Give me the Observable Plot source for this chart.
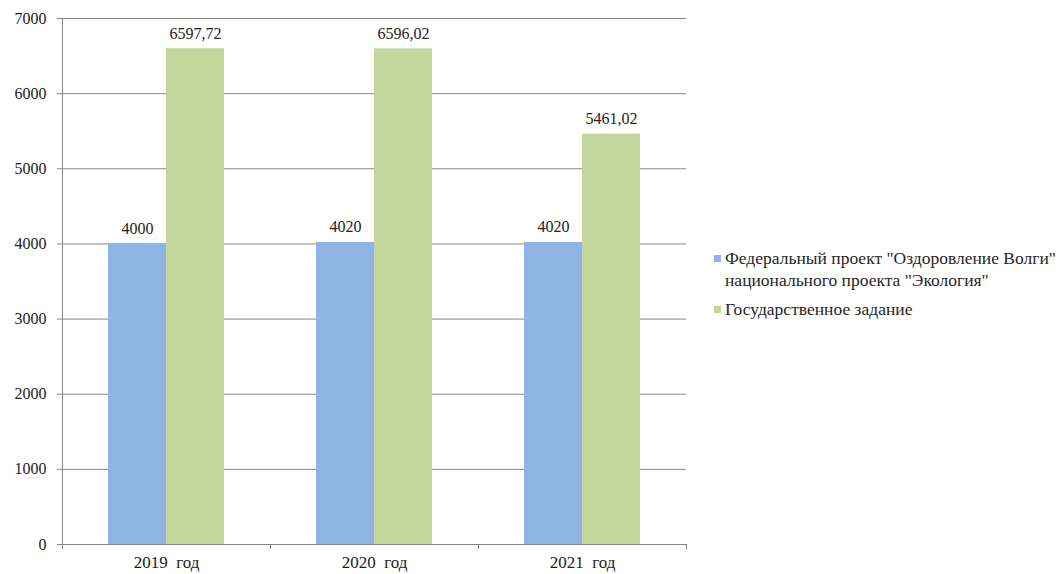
<!DOCTYPE html>
<html>
<head>
<meta charset="utf-8">
<script src="https://cdn.jsdelivr.net/npm/d3@7"></script>
<script src="https://cdn.jsdelivr.net/npm/@observablehq/plot@0.6"></script>
<style>
  html, body { margin: 0; padding: 0; background: #fff; }
  #wrap { position: relative; width: 1064px; height: 574px; font-family: "Liberation Serif", "Times New Roman", serif; overflow: hidden; }
  #chart { position: absolute; left: 0; top: 0; }
  #legend { position: absolute; left: 714px; top: 247px; font-size: 17.5px; color: #262626; white-space: nowrap; width: 350px; }
  .item { display: flex; align-items: flex-start; line-height: 22px; margin-bottom: 7px; }
  .sw { width: 7px; height: 7px; margin-top: 8px; margin-right: 4px; flex: none; }
</style>
</head>
<body>
<div id="wrap"><div id="chart"></div><div id="legend"></div></div>
<script>
const years = ["2019  год", "2020  год", "2021  год"];
const seriesNames = [
  "Федеральный проект \"Оздоровление Волги\" национального проекта \"Экология\"",
  "Государственное задание"
];
const legendLines = [
  ["Федеральный проект \"Оздоровление Волги\"", "национального проекта \"Экология\""],
  ["Государственное задание"]
];
const federal = [4000, 4020, 4020];
const stateTask = [6597.72, 6596.02, 5461.02];
const yTicks = [0, 1000, 2000, 3000, 4000, 5000, 6000, 7000];
const colors = ["#8EB4E3", "#C3D69B"];

const data = [];
years.forEach((y, i) => {
  data.push({year: y, series: seriesNames[0], value: federal[i]});
  data.push({year: y, series: seriesNames[1], value: stateTask[i]});
});
const fmt = v => String(v).replace(".", ",");

const W = 700, mL = 62, mR = 14;
const halfBand = (W - mL - mR) / years.length / 2;

const chart = Plot.plot({
  width: W,
  height: 574,
  marginLeft: mL,
  marginRight: mR,
  marginTop: 18,
  marginBottom: 30,
  style: {fontFamily: "\"Liberation Serif\", \"Times New Roman\", serif", fontSize: "16px", color: "#222", background: "#fff"},
  fx: {domain: years, padding: 0, label: null, axis: null},
  x: {domain: seriesNames, paddingInner: 0, paddingOuter: 0.786, axis: null},
  y: {domain: [0, 7000], label: null},
  color: {domain: seriesNames, range: colors},
  marks: [
    Plot.ruleY(yTicks.filter(d => d > 0), {stroke: "#868686", strokeWidth: 1}),
    Plot.barY(data, {fx: "year", x: "series", y: "value", fill: "series"}),
    Plot.text(data, {fx: "year", x: "series", y: "value", text: d => fmt(d.value), dy: -10, lineAnchor: "bottom", fill: "#222", fontSize: 16}),
    Plot.ruleY([0], {stroke: "#868686", strokeWidth: 1}),
    Plot.frame({anchor: "left", facetAnchor: "left", stroke: "#868686"}),
    Plot.axisY({ticks: yTicks, tickFormat: d => String(d), tickSize: 5, tickPadding: 11, stroke: "#868686", label: null, fontSize: 16}),
    Plot.axisFx({anchor: "bottom", tickSize: 5, text: null, dx: -halfBand, stroke: "#868686", label: null}),
    Plot.axisFx({anchor: "bottom", ticks: [years[years.length - 1]], tickSize: 5, text: null, dx: halfBand, stroke: "#868686", label: null}),
    Plot.axisFx({anchor: "bottom", tickSize: 0, tickPadding: 11, label: null, fontSize: 17})
  ]
});
document.getElementById("chart").appendChild(chart);

const legend = document.getElementById("legend");
legendLines.forEach((lines, i) => {
  const item = document.createElement("div");
  item.className = "item";
  const sw = document.createElement("div");
  sw.className = "sw";
  sw.style.background = colors[i];
  const txt = document.createElement("div");
  txt.innerHTML = lines.map(l => l.replace(/&/g, "&amp;").replace(/</g, "&lt;")).join("<br>");
  item.appendChild(sw);
  item.appendChild(txt);
  legend.appendChild(item);
});
</script>
</body>
</html>
